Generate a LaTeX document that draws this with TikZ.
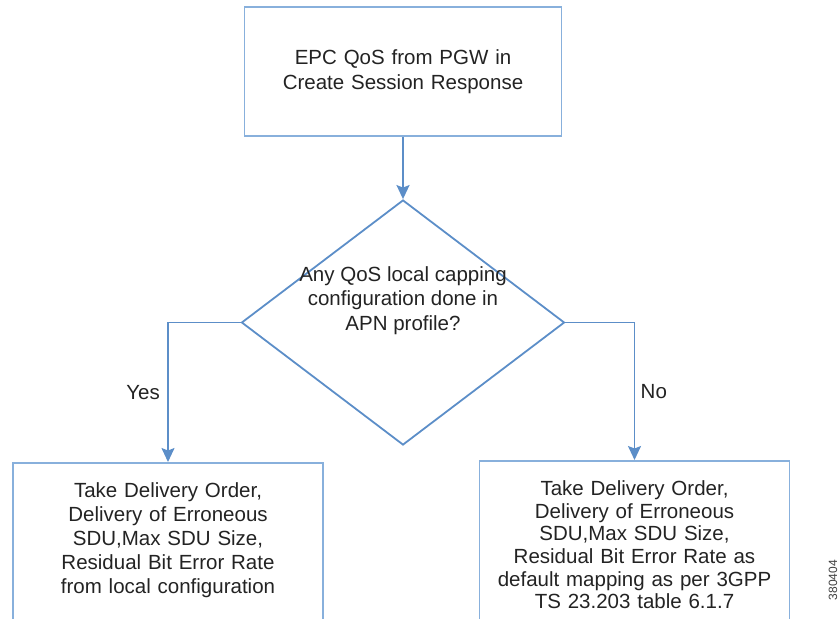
\documentclass[tikz,border=0pt]{standalone}
\usepackage{fontspec}
\setmainfont{Liberation Sans}
\usetikzlibrary{shapes.geometric,arrows.meta,positioning}

\definecolor{qosline}{RGB}{92,142,200}
\definecolor{qosedge}{RGB}{136,176,220}
\definecolor{qostext}{RGB}{35,35,35}

\def\qosTopWidth{317}
\def\qosTopHeight{129}
\def\qosOutWidth{310}
\def\qosDecWidth{323}
\def\qosDecHeight{245}

\begin{document}
\begin{tikzpicture}[
    x=1pt, y=-1pt,
    every node/.style = {text=qostext},
    procbox/.style = {draw=qosedge, line width=1.8pt, inner xsep=0pt, align=center,
        font=\fontsize{20.5}{25}\selectfont},
    outbox/.style = {procbox, anchor=north, inner ysep=20pt,
        text width=\qosOutWidth pt, text depth=170pt},
    decision/.style = {diamond, draw=qosline, line width=1.8pt, inner sep=0pt,
        minimum width=\qosDecWidth pt, minimum height=\qosDecHeight pt},
    flow/.style = {draw=qosline, line width=1.8pt,
        -{Stealth[length=14pt,width=13pt,inset=2.5pt]}},
    answer/.style = {font=\fontsize{20.5}{24.5}\selectfont}
    ]
    \useasboundingbox (0,0) rectangle (840,618);
    \clip (0,0) rectangle (840,618);
    %% request from the gateway
    \node [procbox, text width=\qosTopWidth pt, minimum height=\qosTopHeight pt]
        (pgwresp) at (403,71.5)
        {EPC QoS from PGW in\\Create Session Response};
    %% capping check
    \node [decision] (capcheck) at (403,322.5) {};
    \node [answer, align=center] (captext) at ([yshift=22pt]capcheck.center)
        {Any QoS local capping\\configuration done in\\APN profile?};
    %% outcomes
    \node [outbox, font=\fontsize{20.5}{24}\selectfont] (localcfg) at (168,462)
        {Take Delivery Order,\\Delivery of Erroneous\\SDU,Max SDU Size,\\Residual Bit Error Rate\\from local configuration};
    \node [outbox, font=\fontsize{20.5}{22.6}\selectfont] (defmap) at (634.5,460)
        {Take Delivery Order,\\Delivery of Erroneous\\SDU,Max SDU Size,\\Residual Bit Error Rate as\\default mapping as per 3GPP\\TS 23.203 table 6.1.7};
    %% connectors
    \draw [flow] (pgwresp) -- (capcheck);
    \draw [flow] (capcheck.west) -| node [answer, pos=0.75, left=4pt] (yeslbl) {Yes}
        (localcfg.north);
    \draw [flow] (capcheck.east) -| node [answer, pos=0.75, right=2pt] (nolbl) {No}
        (defmap.north);
    %% figure number
    \node [rotate=90, font=\fontsize{12}{12}\selectfont, text=black!75] (figid)
        at (833,580) {380404};
\end{tikzpicture}
\end{document}
